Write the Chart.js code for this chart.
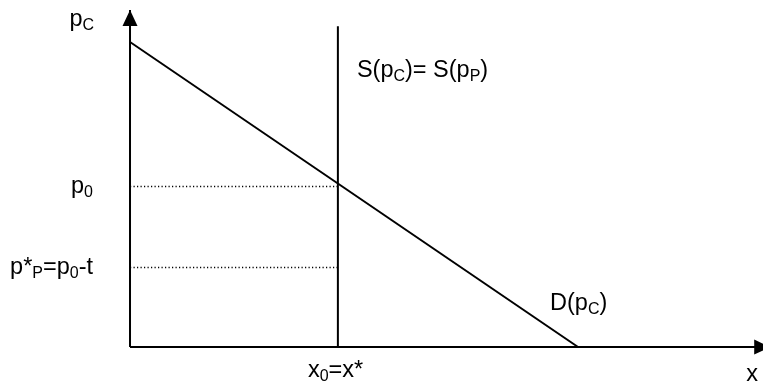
<!DOCTYPE html>
<html>
<head>
<meta charset="utf-8">
<style>
    html, body { margin: 0; padding: 0; background: #fff; }
    #wrap { width: 763px; height: 387px; }
</style>
<script src="https://cdn.jsdelivr.net/npm/chart.js@4.4.1/dist/chart.umd.min.js"></script>
</head>
<body>
<div id="wrap"><canvas id="chart" width="763" height="387"></canvas></div>
<script>
(function () {
    'use strict';

    // Diagram values (quantity on x, consumer price on y)
    var demandQty = [0, 10];
    var demandPrice = [10, 0];
    var x0 = 4.64;
    var supplyQty = [x0, x0];
    var supplyPrice = [0, 10.52];
    var p0 = 5.262;
    var pStar = 2.607;
    var xAxisEnd = 14.29;
    var yAxisEnd = 11.05;

    // Visible window of the two scales
    var xRange = [-2.902, 14.129];
    var yRange = [-1.311, 11.377];

    var INK = '#000';
    var FONT = '"Liberation Sans", Arial, sans-serif';
    var BASE_SIZE = 23.5;
    var SUB_SIZE = 16;
    var SUB_SHIFT = 4;

    // "_X" marks a one-character subscript
    var labels = [
        { text: 'p_C', x: 0, y: yAxisEnd, dx: -36, dy: 16, align: 'right' },
        { text: 'S(p_C)= S(p_P)', x: x0, y: supplyPrice[1], dx: 19, dy: 51, align: 'left' },
        { text: 'p_0', x: 0, y: p0, dx: -37, dy: 6, align: 'right' },
        { text: 'p*_P=p_0-t', x: 0, y: pStar, dx: -37, dy: 7, align: 'right' },
        { text: 'D(p_C)', x: demandQty[1], y: 0, dx: -28, dy: -37, align: 'left' },
        { text: 'x_0=x*', x: x0, y: 0, dx: -30, dy: 30, align: 'left' },
        { text: 'x', x: xAxisEnd, y: 0, dx: -24, dy: 34, align: 'left' }
    ];

    function segment(x, y) {
        return [{ x: x[0], y: y[0] }, { x: x[1], y: y[1] }];
    }

    function lineSet(data, width, dash) {
        return {
            data: data,
            showLine: true,
            borderColor: INK,
            borderWidth: width,
            borderDash: dash || [],
            pointRadius: 0,
            fill: false,
            tension: 0
        };
    }

    function parseRich(text) {
        var parts = [];
        for (var i = 0; i < text.length; i++) {
            if (text[i] === '_' && i + 1 < text.length) {
                parts.push({ t: text[i + 1], sub: true });
                i++;
            } else {
                parts.push({ t: text[i], sub: false });
            }
        }
        return parts;
    }

    var arrowPlugin = {
        id: 'axisArrows',
        afterDatasetsDraw: function (chart) {
            var ctx = chart.ctx;
            var xs = chart.scales.x;
            var ys = chart.scales.y;
            var len = 16;
            var half = 7.5;
            ctx.save();
            ctx.fillStyle = INK;

            var tx = xs.getPixelForValue(0);
            var ty = ys.getPixelForValue(yAxisEnd);
            ctx.beginPath();
            ctx.moveTo(tx, ty);
            ctx.lineTo(tx - half, ty + len);
            ctx.lineTo(tx + half, ty + len);
            ctx.closePath();
            ctx.fill();

            tx = xs.getPixelForValue(xAxisEnd);
            ty = ys.getPixelForValue(0);
            ctx.beginPath();
            ctx.moveTo(tx, ty);
            ctx.lineTo(tx - len, ty - half);
            ctx.lineTo(tx - len, ty + half);
            ctx.closePath();
            ctx.fill();
            ctx.restore();
        }
    };

    var labelPlugin = {
        id: 'richLabels',
        afterDraw: function (chart) {
            var ctx = chart.ctx;
            var xs = chart.scales.x;
            var ys = chart.scales.y;
            ctx.save();
            ctx.fillStyle = INK;
            ctx.textBaseline = 'alphabetic';
            ctx.textAlign = 'left';
            labels.forEach(function (lab) {
                var parts = parseRich(lab.text);
                var total = 0;
                parts.forEach(function (p) {
                    ctx.font = (p.sub ? SUB_SIZE : BASE_SIZE) + 'px ' + FONT;
                    p.w = ctx.measureText(p.t).width;
                    total += p.w;
                });
                var px = xs.getPixelForValue(lab.x) + lab.dx;
                var py = ys.getPixelForValue(lab.y) + lab.dy;
                if (lab.align === 'right') {
                    px -= total;
                }
                parts.forEach(function (p) {
                    ctx.font = (p.sub ? SUB_SIZE : BASE_SIZE) + 'px ' + FONT;
                    ctx.fillText(p.t, px, p.sub ? py + SUB_SHIFT : py);
                    px += p.w;
                });
            });
            ctx.restore();
        }
    };

    new Chart(document.getElementById('chart'), {
        type: 'scatter',
        data: {
            datasets: [
                lineSet(segment([0, xAxisEnd], [0, 0]), 2),
                lineSet(segment([0, 0], [0, yAxisEnd]), 2),
                lineSet(segment(demandQty, demandPrice), 2),
                lineSet(segment(supplyQty, supplyPrice), 2),
                lineSet(segment([0, x0], [p0, p0]), 1.3, [1.2, 2.3]),
                lineSet(segment([0, x0], [pStar, pStar]), 1.3, [1.2, 2.3])
            ]
        },
        options: {
            responsive: false,
            animation: false,
            layout: { padding: 0 },
            plugins: {
                legend: { display: false },
                tooltip: { enabled: false }
            },
            scales: {
                x: { type: 'linear', min: xRange[0], max: xRange[1], display: false },
                y: { type: 'linear', min: yRange[0], max: yRange[1], display: false }
            }
        },
        plugins: [arrowPlugin, labelPlugin]
    });
})();
</script>
</body>
</html>
